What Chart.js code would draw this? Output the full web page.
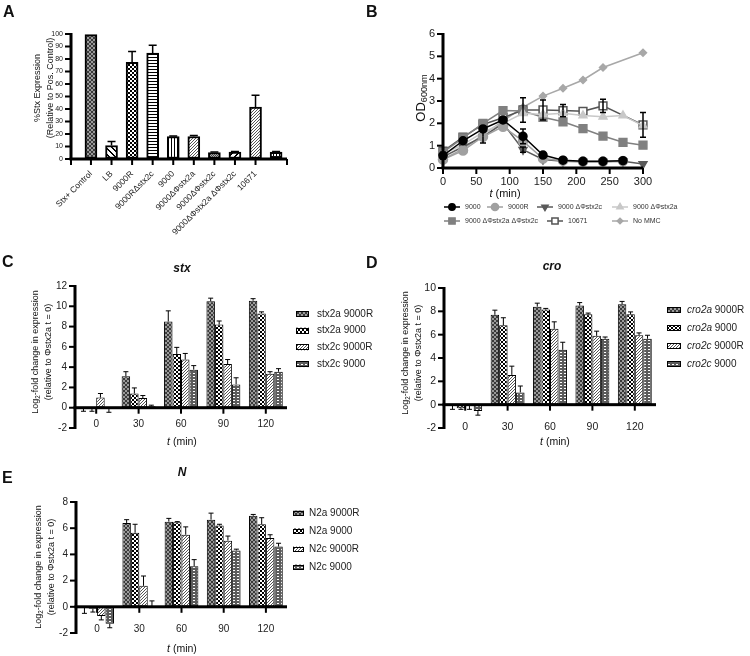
<!DOCTYPE html>
<html>
<head>
<meta charset="utf-8">
<script src="https://cdn.jsdelivr.net/npm/chart.js@4.4.0/dist/chart.umd.min.js"></script>
<style>
  body { margin: 0; background: #fff; }
  #fig { position: relative; width: 750px; height: 656px; overflow: hidden;
         font-family: "Liberation Sans", Arial, sans-serif; color: #111; }
  #fig canvas { position: absolute; }
  .lab { position: absolute; font-weight: bold; font-size: 16px; line-height: 18px; }
  .t { position: absolute; transform: translate(-50%, -50%); white-space: nowrap; }
  .yt { position: absolute; transform: translate(-50%, -50%) rotate(-90deg);
        white-space: nowrap; text-align: center; }
  .yt sub, .t sub { font-size: 70%; vertical-align: -2px; line-height: 0; }
</style>
</head>
<body>
<div id="fig">
  <canvas id="chartA" width="300" height="240" style="left:0;top:0"></canvas>
  <canvas id="chartB" width="375" height="230" style="left:375px;top:0"></canvas>
  <canvas id="chartC" width="375" height="190" style="left:0;top:255px"></canvas>
  <canvas id="chartD" width="375" height="190" style="left:375px;top:255px"></canvas>
  <canvas id="chartE" width="375" height="186" style="left:0;top:470px"></canvas>

  <div class="lab" style="left:3px;top:3px">A</div>
  <div class="lab" style="left:366px;top:3px">B</div>
  <div class="lab" style="left:2px;top:253px">C</div>
  <div class="lab" style="left:366px;top:254px">D</div>
  <div class="lab" style="left:2px;top:469px">E</div>

  <div class="yt" style="left:44px;top:88px;font-size:9px;line-height:13px">%Stx Expression<br>(Relative to Pos. Control)</div>

  <div class="yt" style="left:420px;top:98px;font-size:13px">OD<sub>600nm</sub></div>
  <div class="t" style="left:505px;top:193px;font-size:11px"><i>t</i> (min)</div>

  <div class="t" style="left:182px;top:268px;font-size:12px;font-weight:bold;font-style:italic">stx</div>
  <div class="yt" style="left:41px;top:352px;font-size:9px;line-height:12.5px">Log<sub>2</sub>-fold change in expression<br>(relative to Φstx2a t = 0)</div>
  <div class="t" style="left:182px;top:441px;font-size:10.5px"><i>t</i> (min)</div>

  <div class="t" style="left:552px;top:266px;font-size:12px;font-weight:bold;font-style:italic">cro</div>
  <div class="yt" style="left:411px;top:353px;font-size:9px;line-height:12.5px">Log<sub>2</sub>-fold change in expression<br>(relative to Φstx2a t = 0)</div>
  <div class="t" style="left:555px;top:441px;font-size:10.5px"><i>t</i> (min)</div>

  <div class="t" style="left:182px;top:472px;font-size:12px;font-weight:bold;font-style:italic">N</div>
  <div class="yt" style="left:45px;top:567px;font-size:9px;line-height:13px">Log<sub>2</sub>-fold change in expression<br>(relative to Φstx2a t = 0)</div>
  <div class="t" style="left:182px;top:648px;font-size:10.5px"><i>t</i> (min)</div>
</div>

<script>
const FONT = '"Liberation Sans", Arial, sans-serif';

// ---------- Panel A: %Stx expression ----------
const aLabels = ['Stx+ Control', 'LB', '9000R', '9000RΔstx2c', '9000', '9000ΔΦstx2a',
                 '9000ΔΦstx2c', '9000ΔΦstx2a ΔΦstx2c', '10671', '10671 ΔΦstx2c'];
const aValues = [99.5, 10.8, 77.3, 84.8, 17.9, 18.0, 5.2, 5.6, 41.5, 5.6];
const aErrors = [0, 3.2, 8.8, 6.2, 0.6, 0.8, 0.5, 0.5, 9.6, 0.5];

// ---------- Panel B: OD600 time course ----------
const bTimes    = [0, 30, 60, 90, 120, 150, 180, 210, 240, 270, 300];
const b9000     = [0.55, 1.22, 1.75, 2.15, 1.42, 0.58, 0.35, 0.30, 0.30, 0.33, null];
const b9000Err  = [0.15, 0, 0.1, 0, 0.33, 0, 0, 0, 0, 0, 0];
const b9000R    = [0.38, 0.78, 1.40, 1.85, 1.20, 0.42, 0.33, 0.29, 0.29, 0.31, null];
const b9000dC   = [0.50, 0.95, 1.40, 2.00, 0.82, 0.38, 0.30, 0.28, 0.28, 0.30, 0.18];
const b9000dCErr = [0, 0, 0.28, 0, 0.12, 0, 0, 0, 0, 0, 0];
const b9000dA   = [0.62, 1.05, 1.60, 2.00, 2.45, 2.40, 2.45, 2.35, 2.30, 2.35, 1.90];
const b9000dAC  = [0.70, 1.35, 2.00, 2.57, 2.55, 2.27, 2.07, 1.76, 1.43, 1.15, 1.02];
const b10671    = [0.75, 1.38, 1.95, 2.25, 2.60, 2.60, 2.57, 2.54, 2.78, null, 1.93];
const b10671Err = [0, 0, 0, 0, 0.55, 0.45, 0.27, 0, 0.3, 0, 0.55];
const bNoMMC    = [0.40, 0.85, 1.50, 2.10, 2.72, 3.22, 3.57, 3.94, 4.50, null, 5.16];

// ---------- Panels C-E: log2 fold change ----------
const cdeTimes = ['0', '30', '60', '90', '120'];

const stxNames = ['stx2a 9000R', 'stx2a 9000', 'stx2c 9000R', 'stx2c 9000'];
const stx2a9000R = [-0.05, 3.1, 8.5, 10.5, 10.55];
const stx2a9000RErr = [0.3, 0.45, 1.05, 0.3, 0.2];
const stx2a9000 = [-0.05, 1.4, 5.3, 8.2, 9.3];
const stx2a9000Err = [0.3, 0.55, 0.65, 0.35, 0.15];
const stx2c9000R = [1.0, 0.95, 4.75, 4.3, 3.35];
const stx2c9000RErr = [0.4, 0.25, 0.6, 0.45, 0.2];
const stx2c9000 = [-0.05, 0.15, 3.75, 2.3, 3.55];
const stx2c9000Err = [0.4, 0.1, 0.4, 0.65, 0.3];

const croNames = ['cro2a 9000R', 'cro2a 9000', 'cro2c 9000R', 'cro2c 9000'];
const cro2a9000R = [-0.05, 7.7, 8.4, 8.5, 8.6];
const cro2a9000RErr = [0.35, 0.4, 0.3, 0.25, 0.25];
const cro2a9000 = [-0.3, 6.8, 8.15, 7.75, 7.75];
const cro2a9000Err = [0.1, 0.65, 0.1, 0.1, 0.2];
const cro2c9000R = [-0.1, 2.55, 6.5, 5.9, 5.95];
const cro2c9000RErr = [0.3, 0.75, 0.6, 0.4, 0.2];
const cro2c9000 = [-0.55, 1.05, 4.7, 5.65, 5.65];
const cro2c9000Err = [0.35, 0.55, 0.65, 0.15, 0.3];

const nNames = ['N2a 9000R', 'N2a 9000', 'N2c 9000R', 'N2c 9000'];
const n2a9000R = [-0.05, 6.4, 6.5, 6.65, 6.95];
const n2a9000RErr = [0.45, 0.25, 0.25, 0.5, 0.1];
const n2a9000 = [-0.15, 5.65, 6.45, 6.2, 6.3];
const n2a9000Err = [0.25, 0.65, 0.05, 0.1, 0.5];
const n2c9000R = [-0.7, 1.6, 5.5, 5.05, 5.25];
const n2c9000RErr = [0.3, 0.75, 0.6, 0.35, 0.25];
const n2c9000 = [-1.3, 0.05, 3.1, 4.3, 4.6];
const n2c9000Err = [0.3, 0.4, 0.5, 0.1, 0.25];

// ---------- fill patterns ----------
function makePattern(kind) {
  const c = document.createElement('canvas');
  const g = c.getContext('2d');
  let w = 4, h = 4, bg = '#fff', fg = '#000', on = () => false;
  switch (kind) {
    case 'xhatch':   bg = '#9a9a9a'; fg = '#3a3a3a'; on = (x, y) => x === y || x === 3 - y; break;
    case 'backThick': w = h = 6; on = (x, y) => ((x - y + 6) % 6) < 2; break;
    case 'checker':  on = (x, y) => (((x >> 1) + (y >> 1)) % 2) === 0; break;
    case 'hlines':   w = h = 3; on = (x, y) => y === 0; break;
    case 'vlines':   w = h = 3; on = (x, y) => x === 0; break;
    case 'fwdFine':  w = h = 3; fg = '#555'; on = (x, y) => (x + y) % 3 === 0; break;
    case 'dots':     w = h = 2; bg = '#bbb'; fg = '#444'; on = (x, y) => x === y; break;
    case 'fwdThick': w = h = 6; on = (x, y) => ((x + y) % 6) < 2; break;
    case 'grid':     w = h = 3; on = (x, y) => x === 0 || y === 0; break;
    case 'brick':    w = 4; h = 3; bg = '#5c5c5c'; fg = '#fff'; on = (x, y) => y === 1 && (x === 1 || x === 2); break;
  }
  c.width = w; c.height = h;
  g.fillStyle = bg; g.fillRect(0, 0, w, h);
  g.fillStyle = fg;
  for (let y = 0; y < h; y++) for (let x = 0; x < w; x++) if (on(x, y)) g.fillRect(x, y, 1, 1);
  return g.createPattern(c, 'repeat');
}

// ---------- plugins ----------
const errorBars = {
  id: 'errorBars',
  afterDatasetsDraw(chart) {
    const ctx = chart.ctx;
    chart.data.datasets.forEach((ds, di) => {
      if (!ds.err) return;
      const meta = chart.getDatasetMeta(di);
      const ys = chart.scales[meta.yAxisID];
      ctx.save();
      ctx.strokeStyle = '#000';
      ctx.lineWidth = ds.errWidth || 1;
      meta.data.forEach((el, i) => {
        const e = ds.err[i];
        const raw = ds.data[i];
        const v = raw !== null && typeof raw === 'object' ? raw.y : raw;
        if (!e || v === null || v === undefined) return;
        const cap = ds.errCap || 3;
        const ends = ds.errBoth ? [v + e, v - e] : [v < 0 ? v - e : v + e];
        ends.forEach(end => {
          const y1 = ys.getPixelForValue(end);
          ctx.beginPath();
          ctx.moveTo(el.x, ys.getPixelForValue(v));
          ctx.lineTo(el.x, y1);
          ctx.moveTo(el.x - cap, y1);
          ctx.lineTo(el.x + cap, y1);
          ctx.stroke();
        });
      });
      ctx.restore();
    });
  }
};

// thick axis lines with outward tick marks, x axis sitting at y = 0
const axisLines = {
  id: 'axisLines',
  afterDraw(chart, args, o) {
    const ctx = chart.ctx, a = chart.chartArea;
    const xs = chart.scales.x, ys = chart.scales.y;
    const yTop = ys.getPixelForValue(ys.max), yBot = ys.getPixelForValue(ys.min);
    const y0 = ys.getPixelForValue(0);
    ctx.save();
    ctx.fillStyle = '#000';
    ctx.fillRect(a.left - 1.5, yTop - 1, 3, yBot - yTop + 2);
    ctx.fillRect(a.left - 1.5, y0 - 1.5, a.right - a.left + 1.5, 3);
    ys.ticks.forEach((t) => {
      const p = ys.getPixelForValue(t.value);
      ctx.fillRect(a.left - 6, p - 1, 6, 2);
    });
    xs.ticks.forEach((t) => {
      const p = xs.getPixelForValue(t.value);
      ctx.fillRect(p - 1, y0, 2, 6);
    });
    if (o && o.labelY !== undefined) {
      // category labels, placed from the x scale
      ctx.fillStyle = '#222';
      ctx.font = o.size + 'px ' + FONT;
      ctx.textAlign = 'center';
      ctx.textBaseline = 'middle';
      chart.data.labels.forEach((lab, i) => {
        ctx.fillText(lab, xs.getPixelForValue(i), a.bottom + o.labelY);
      });
    }
    ctx.restore();
  }
};

const swatchLegend = {
  id: 'swatchLegend',
  afterDraw(chart, args, o) {
    if (!o || o.x === undefined) return;
    const ctx = chart.ctx;
    ctx.save();
    ctx.textBaseline = 'middle';
    chart.data.datasets.forEach((ds, i) => {
      const y = o.y + i * o.dy;
      ctx.fillStyle = ds.backgroundColor;
      ctx.fillRect(o.x, y - o.h / 2, o.w, o.h);
      ctx.strokeStyle = '#000';
      ctx.lineWidth = 1;
      ctx.strokeRect(o.x + 0.5, Math.round(y - o.h / 2) + 0.5, o.w - 1, o.h - 1);
      ctx.fillStyle = '#222';
      let tx = o.x + o.w + o.gap;
      let text = ds.label;
      if (o.italicFirst) {
        const k = text.indexOf(' ');
        ctx.font = 'italic ' + o.size + 'px ' + FONT;
        ctx.fillText(text.slice(0, k), tx, y);
        tx += ctx.measureText(text.slice(0, k)).width;
        text = text.slice(k);
      }
      ctx.font = o.size + 'px ' + FONT;
      ctx.fillText(text, tx, y);
    });
    ctx.restore();
  }
};

// marker x / row y of the panel B legend, relative to its canvas
const bLegendSpots = [[77, 207], [120, 207], [170, 207], [245, 207], [77, 221], [180, 221], [245, 221]];
const lineLegend = {
  id: 'lineLegend',
  afterDraw(chart) {
    const ctx = chart.ctx;
    ctx.save();
    ctx.textBaseline = 'middle';
    ctx.font = '7px ' + FONT;
    chart.data.datasets.forEach((ds, i) => {
      const [x, y] = bLegendSpots[i];
      ctx.strokeStyle = ds.borderColor;
      ctx.lineWidth = 1.5;
      ctx.beginPath();
      ctx.moveTo(x - 8, y); ctx.lineTo(x + 8, y);
      ctx.stroke();
      ctx.fillStyle = ds.pointBackgroundColor || ds.borderColor;
      ctx.strokeStyle = ds.borderColor;
      ctx.lineWidth = 1.5;
      Chart.helpers.drawPoint(ctx, {
        pointStyle: ds.pointStyle, radius: ds.pointRadius * 0.8,
        rotation: ds.pointRotation || 0, borderWidth: 1.5
      }, x, y);
      ctx.fillStyle = '#333';
      ctx.fillText(ds.label, x + 13, y);
    });
    ctx.restore();
  }
};

const hiddenGrid = { drawOnChartArea: false, tickLength: 5, color: 'rgba(0,0,0,0)' };

function yAxis(min, max, step, width, size) {
  return {
    min: min, max: max,
    ticks: { stepSize: step, color: '#222', font: { family: FONT, size: size }, padding: 3 },
    grid: hiddenGrid,
    border: { display: false },
    afterFit: s => { s.width = width; }
  };
}

const base = { responsive: false, animation: false, devicePixelRatio: 1 };

// ---------- Chart A ----------
new Chart(document.getElementById('chartA'), {
  type: 'bar',
  data: {
    datasets: [{
      data: aLabels.map((_, i) => ({ x: i, y: aValues[i] })),
      backgroundColor: ['xhatch', 'backThick', 'checker', 'hlines', 'vlines', 'fwdFine',
                        'dots', 'fwdThick', 'fwdFine', 'grid'].map(makePattern),
      borderColor: '#000', borderWidth: 2, borderSkipped: false, barThickness: 12,
      err: aErrors, errCap: 4, errWidth: 1.5
    }]
  },
  options: Object.assign({}, base, {
    layout: { padding: { left: 0, top: 34, right: 13, bottom: 0 } },
    plugins: { legend: { display: false }, tooltip: { enabled: false } },
    scales: {
      x: {
        type: 'linear', min: -0.97, max: 9.53, offset: false,
        ticks: {
          stepSize: 1, autoSkip: false, minRotation: 45, maxRotation: 45, padding: 5,
          color: '#222', font: { family: FONT, size: 8.5 },
          callback: v => aLabels[v] !== undefined ? aLabels[v] : ''
        },
        grid: hiddenGrid,
        border: { display: false },
        afterFit: s => { s.height = 240 - 159; }
      },
      y: yAxis(0, 100, 10, 71, 7)
    }
  }),
  plugins: [errorBars, axisLines]
});

// ---------- Chart B ----------
function bSeries(label, values, style) {
  return Object.assign({
    label: label,
    data: bTimes.map((t, i) => ({ x: t, y: values[i] })),
    borderWidth: 1.5, spanGaps: true, clip: false, pointBorderWidth: 1.5
  }, style);
}
new Chart(document.getElementById('chartB'), {
  type: 'line',
  data: {
    datasets: [
      bSeries('9000', b9000, { borderColor: '#000', backgroundColor: '#000', pointStyle: 'circle', pointRadius: 4, err: b9000Err, errBoth: true, errCap: 3, errWidth: 1.5 }),
      bSeries('9000R', b9000R, { borderColor: '#a0a0a0', backgroundColor: '#a0a0a0', pointStyle: 'circle', pointRadius: 4.5 }),
      bSeries('9000 ΔΦstx2c', b9000dC, { borderColor: '#5a5a5a', backgroundColor: '#5a5a5a', pointStyle: 'triangle', pointRotation: 180, pointRadius: 4.5, err: b9000dCErr, errBoth: true, errCap: 3, errWidth: 1.5 }),
      bSeries('9000 ΔΦstx2a', b9000dA, { borderColor: '#c8c8c8', backgroundColor: '#c8c8c8', pointStyle: 'triangle', pointRadius: 4.5 }),
      bSeries('9000 ΔΦstx2a ΔΦstx2c', b9000dAC, { borderColor: '#808080', backgroundColor: '#808080', pointStyle: 'rect', pointRadius: 5.5 }),
      bSeries('10671', b10671, { borderColor: '#555', backgroundColor: '#555', pointBackgroundColor: '#fff', pointStyle: 'rect', pointRadius: 5.5, err: b10671Err, errBoth: true, errCap: 3, errWidth: 1.5 }),
      bSeries('No MMC', bNoMMC, { borderColor: '#a8a8a8', backgroundColor: '#a8a8a8', pointStyle: 'rectRot', pointRadius: 3.5 })
    ]
  },
  options: Object.assign({}, base, {
    layout: { padding: { left: 0, top: 34, right: 107, bottom: 0 } },
    plugins: { legend: { display: false }, tooltip: { enabled: false } },
    scales: {
      x: {
        type: 'linear', min: 0, max: 300,
        ticks: { stepSize: 50, color: '#222', font: { family: FONT, size: 11 }, padding: 2 },
        grid: hiddenGrid,
        border: { display: false },
        afterFit: s => { s.height = 230 - 168; }
      },
      y: yAxis(0, 6, 1, 68, 11)
    }
  }),
  plugins: [axisLines, errorBars, lineLegend]
});

// ---------- Charts C, D, E ----------
function expressionChart(id, names, values, errors, cfg) {
  const fills = ['xhatch', 'checker', 'fwdFine', 'brick'].map(makePattern);
  new Chart(document.getElementById(id), {
    type: 'bar',
    data: {
      labels: cdeTimes,
      datasets: names.map((n, i) => ({
        label: n, data: values[i], err: errors[i],
        backgroundColor: fills[i], borderColor: '#000', borderWidth: 1, borderSkipped: false,
        categoryPercentage: 0.8, barPercentage: 1, errCap: 2.5, errWidth: 1
      }))
    },
    options: Object.assign({}, base, {
      layout: { padding: cfg.padding },
      plugins: {
        legend: { display: false }, tooltip: { enabled: false },
        swatchLegend: cfg.legend,
        axisLines: { labelY: cfg.labelY, size: cfg.font }
      },
      scales: {
        x: {
          type: 'category', offset: true,
          grid: { display: false }, border: { display: false },
          ticks: { display: false },
          afterFit: s => { s.height = cfg.xh; }
        },
        y: yAxis(cfg.min, cfg.max, 2, cfg.yw, cfg.font)
      }
    }),
    plugins: [errorBars, axisLines, swatchLegend]
  });
}

expressionChart('chartC', stxNames,
  [stx2a9000R, stx2a9000, stx2c9000R, stx2c9000],
  [stx2a9000RErr, stx2a9000Err, stx2c9000RErr, stx2c9000Err],
  { padding: { left: 0, top: 31, right: 88, bottom: 0 }, xh: 17, yw: 75, min: -2, max: 12,
    font: 10, labelY: -4,
    legend: { x: 296, y: 59, dy: 16.7, w: 13, h: 6, gap: 8, size: 10, italicFirst: false } });

expressionChart('chartD', croNames,
  [cro2a9000R, cro2a9000, cro2c9000R, cro2c9000],
  [cro2a9000RErr, cro2a9000Err, cro2c9000RErr, cro2c9000Err],
  { padding: { left: 0, top: 33, right: 94, bottom: 0 }, xh: 17, yw: 69, min: -2, max: 10,
    font: 10.5, labelY: -1,
    legend: { x: 292, y: 55, dy: 18, w: 14, h: 6, gap: 6, size: 10, italicFirst: true } });

expressionChart('chartE', nNames,
  [n2a9000R, n2a9000, n2c9000R, n2c9000],
  [n2a9000RErr, n2a9000Err, n2c9000RErr, n2c9000Err],
  { padding: { left: 0, top: 32, right: 88, bottom: 0 }, xh: 23, yw: 76, min: -2, max: 8,
    font: 10, labelY: -4,
    legend: { x: 293, y: 43, dy: 18, w: 11, h: 5, gap: 5, size: 10, italicFirst: false } });
</script>
</body>
</html>
